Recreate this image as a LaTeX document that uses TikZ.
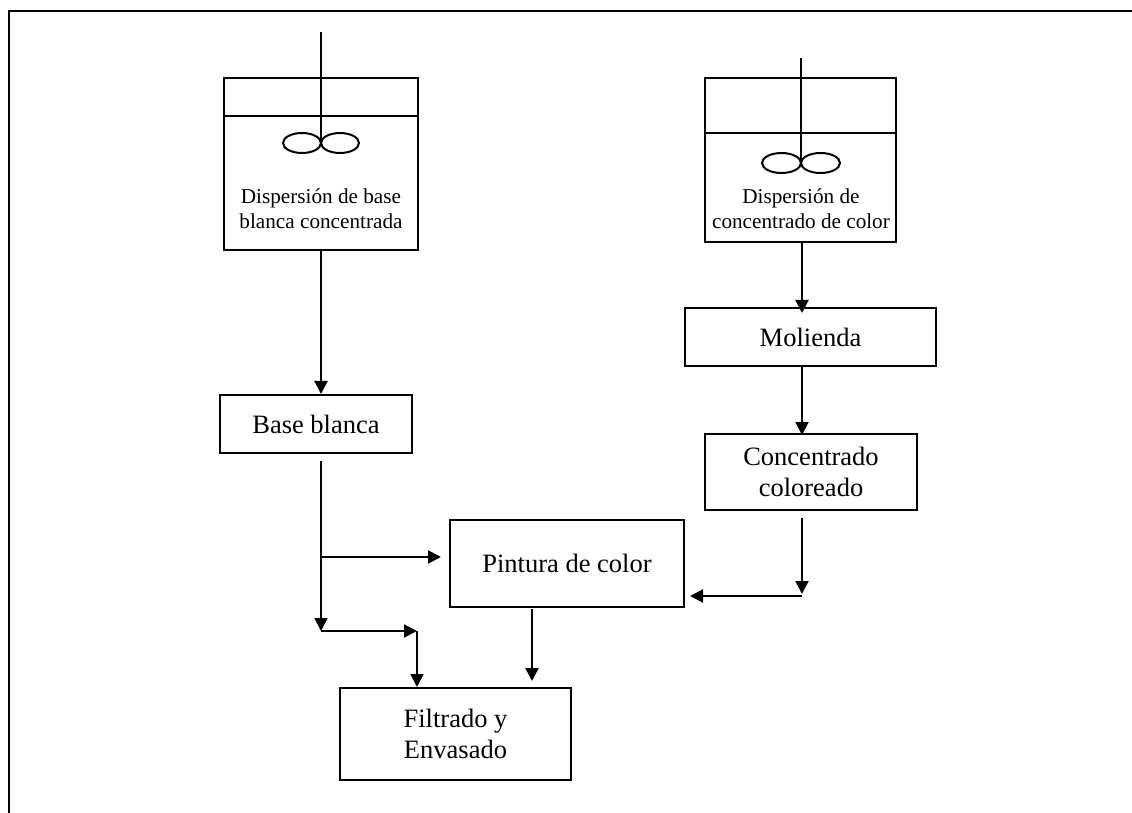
\documentclass[tikz,border=0pt]{standalone}
\usepackage{fontspec}
\setmainfont{Liberation Serif}
\usetikzlibrary{arrows.meta}

\begin{document}
\begin{tikzpicture}[x=0.5pt, y=-0.5pt, line width=1pt,
    box/.style={draw, inner sep=0pt, align=center, font=\fontsize{13.25}{15.25}\selectfont},
    tank/.style={draw, inner sep=0pt},
    tanktext/.style={align=center, font=\fontsize{10.6}{12.4}\selectfont},
    flow/.style={-{Triangle[width=6.5pt,length=6.5pt]}}]

\useasboundingbox (0,0) rectangle (1132,813);
\draw[line width=1.2pt] (9,813) -- (9,11) -- (1132,11);

% tanks
\node[tank, minimum width=97pt, minimum height=86pt] (tankA) at (321,164) {};
\node[tank, minimum width=95.5pt, minimum height=82pt] (tankB) at (800.5,160) {};
\node[tanktext] (txtA) at (321,209) {Dispersión de base\\blanca concentrada};
\node[tanktext] (txtB) at (801,209) {Dispersión de\\concentrado de color};
\coordinate (lidA) at (0,116);
\coordinate (lidB) at (0,133);
\draw (tankA.west |- lidA) -- (tankA.east |- lidA);
\draw (tankB.west |- lidB) -- (tankB.east |- lidB);

% agitators
\coordinate (hubA) at (321,143);
\coordinate (hubB) at (801,163);
\draw (321,32) -- (hubA);
\draw (801,58) -- (hubB);
\draw ([xshift=-9.5pt]hubA) ellipse (9.5pt and 5pt);
\draw ([xshift=9.5pt]hubA) ellipse (9.5pt and 5pt);
\draw ([xshift=-9.75pt]hubB) ellipse (9.75pt and 5pt);
\draw ([xshift=9.75pt]hubB) ellipse (9.75pt and 5pt);

% boxes
\node[box, minimum width=96pt, minimum height=29pt] (base) at (316,424) {Base blanca};
\node[box, minimum width=125.5pt, minimum height=29pt] (molienda) at (810.5,337) {Molienda};
\node[box, minimum width=106pt, minimum height=38pt] (concentrado) at (811,472) {Concentrado\\coloreado};
\node[box, minimum width=117pt, minimum height=43.5pt] (pintura) at (567,563.5) {Pintura de color};
\node[box, minimum width=115.5pt, minimum height=46pt] (filtrado) at (455.5,734) {Filtrado y\\Envasado};

% connectors
\coordinate (baseout) at (321,461);
\coordinate (branch) at (321,557);
\coordinate (baseend) at (321,631);
\coordinate (turn) at (417,631);
\coordinate (pintout) at (532,609);
\coordinate (concout) at (802,518);
\coordinate (concend) at (802,594);
\coordinate (concturn) at (802,596);

\draw[flow] (tankA.south -| 321,0) -- (base.north -| 321,0);
\draw[flow] (tankB.south -| 802,0) -- ([yshift=-3pt]molienda.north -| 802,0);
\draw[flow] (molienda.south -| 802,0) -- ([yshift=-1pt]concentrado.north -| 802,0);
\draw[flow] (baseout) -- (baseend);
\draw[flow, shorten >=4pt] (branch) -- (pintura.west |- branch);
\draw[flow] (baseend) -- (turn);
\draw[flow] (turn) -- (filtrado.north -| turn);
\draw[flow, shorten >=3pt] (pintout) -- (filtrado.north -| pintout);
\draw[flow] (concout) -- (concend);
\draw[flow, shorten >=2.5pt] (concturn) -- (pintura.east |- concturn);
\end{tikzpicture}
\end{document}
